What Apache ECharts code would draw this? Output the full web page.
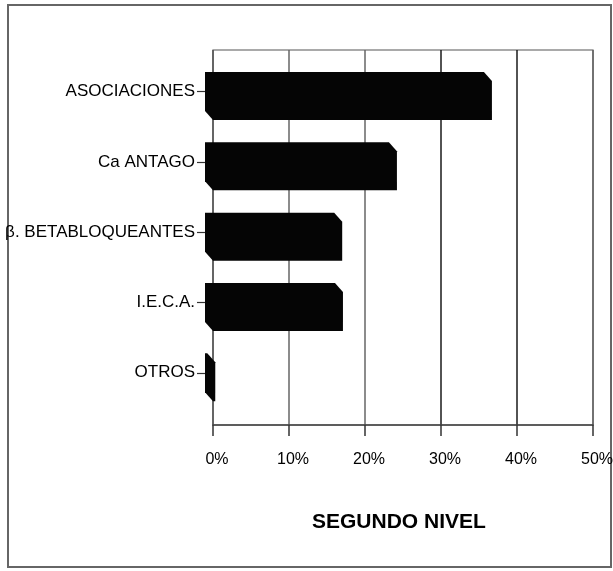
<!DOCTYPE html>
<html>
<head>
<meta charset="utf-8">
<script src="https://cdn.jsdelivr.net/npm/echarts@6/dist/echarts.min.js"></script>
<style>
  html, body { margin: 0; padding: 0; background: #fff; }
  #chart { width: 613px; height: 571px; }
</style>
</head>
<body>
<div id="chart"></div>
<script>
const categories = ['ASOCIACIONES', 'Ca ANTAGO', 'β. BETABLOQUEANTES', 'I.E.C.A.', 'OTROS'];
const values = [36.7, 24.2, 17.0, 17.1, 0.3];
const xTickLabels = ['0%', '10%', '20%', '30%', '40%', '50%'];
const axisTitle = 'SEGUNDO NIVEL';

const FONT = "'Liberation Sans', Arial, sans-serif";
const DX = 8, DY = 9;

const chart = echarts.init(document.getElementById('chart'), null, { renderer: 'canvas' });

function renderBar(params, api) {
  const v = api.value(0);
  const cat = api.value(1);
  const a = api.coord([0, cat]);
  const b = api.coord([v, cat]);
  const h = api.size([0, 1])[1] * 0.555;
  const y0 = a[1] - h / 2, y1 = a[1] + h / 2;
  const x0 = a[0], x1 = b[0];
  return {
    type: 'polygon',
    shape: { points: [[x0, y0], [x1, y0], [x1 + DX, y0 + DY], [x1 + DX, y1 + DY], [x0 + DX, y1 + DY], [x0, y1]] },
    style: { fill: '#050505' }
  };
}

chart.setOption({
  backgroundColor: '#fff',
  animation: false,
  grid: [
    { left: 213, top: 50, width: 380, height: 375, containLabel: false, outerBoundsMode: 'none', show: true, borderColor: '#555', borderWidth: 1.2, backgroundColor: 'transparent' },
    { left: 205, top: 56.4, width: 380, height: 351.5, containLabel: false, outerBoundsMode: 'none' }
  ],
  xAxis: [
    {
      gridIndex: 0, type: 'value', min: 0, max: 50, interval: 10,
      axisLine: { show: true, lineStyle: { color: '#444', width: 1.5 } },
      axisTick: { show: true, length: 11, lineStyle: { color: '#333', width: 1.5 } },
      axisLabel: {
        margin: 27, fontFamily: FONT, fontSize: 16, color: '#000', padding: [0, 0, 0, 8],
        formatter: (val, idx) => xTickLabels[idx]
      },
      splitLine: { show: true, lineStyle: { color: ['#555', '#666', '#666', '#1a1a1a', '#1a1a1a', '#666'], width: 1.5 } }
    },
    { gridIndex: 1, type: 'value', min: 0, max: 50, show: false, splitLine: { show: false } }
  ],
  yAxis: [
    { gridIndex: 0, type: 'category', data: categories, show: false },
    {
      gridIndex: 1, type: 'category', data: categories, inverse: true,
      axisLine: { show: false },
      axisTick: { show: true, alignWithLabel: true, length: 8, lineStyle: { color: '#333', width: 1.2 } },
      axisLabel: { margin: 10, fontFamily: FONT, fontSize: 17, color: '#000' },
      splitLine: { show: false }
    }
  ],
  series: [{
    type: 'custom',
    xAxisIndex: 1, yAxisIndex: 1,
    renderItem: renderBar,
    encode: { x: 0, y: 1 },
    data: values.map((v, i) => [v, i])
  }],
  graphic: [
    { type: 'rect', shape: { x: 8, y: 5, width: 603, height: 562 }, style: { fill: 'none', stroke: '#666', lineWidth: 2 }, silent: true },
    { type: 'text', left: 312, top: 512, style: { text: axisTitle, font: "bold 21px 'Liberation Sans', Arial, sans-serif", fill: '#000' } }
  ]
});
</script>
</body>
</html>
